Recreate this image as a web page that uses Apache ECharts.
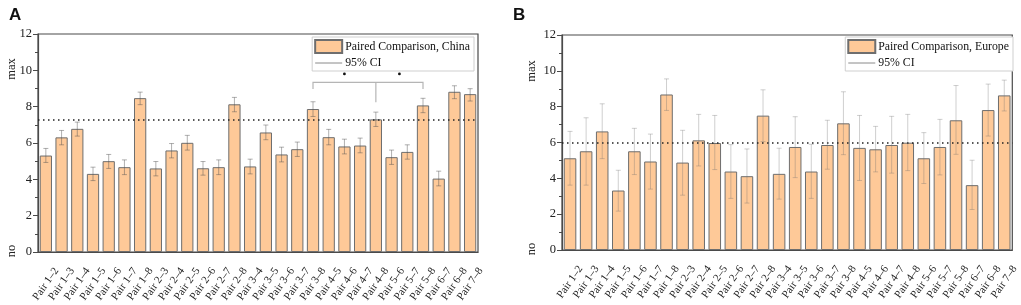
<!DOCTYPE html>
<html>
<head>
<meta charset="utf-8">
<script src="https://cdn.jsdelivr.net/npm/echarts@6/dist/echarts.min.js"></script>
<style>html,body{margin:0;padding:0;background:#fff;}#c{width:1021px;height:305px;}</style>
</head>
<body>
<div id="c"></div>
<script>
const categories = ['Pair 1–2','Pair 1–3','Pair 1–4','Pair 1–5','Pair 1–6','Pair 1–7','Pair 1–8',
  'Pair 2–3','Pair 2–4','Pair 2–5','Pair 2–6','Pair 2–7','Pair 2–8',
  'Pair 3–4','Pair 3–5','Pair 3–6','Pair 3–7','Pair 3–8',
  'Pair 4–5','Pair 4–6','Pair 4–7','Pair 4–8',
  'Pair 5–6','Pair 5–7','Pair 5–8','Pair 6–7','Pair 6–8','Pair 7–8'];

const meanChina   = [5.31,6.31,6.78,4.30,5.00,4.67,8.47,4.60,5.59,6.01,4.61,4.67,8.13,4.71,6.58,5.37,5.66,7.87,6.32,5.81,5.86,7.30,5.22,5.51,8.07,4.04,8.82,8.69];
const ciLowChina  = [4.93,5.90,6.38,3.93,4.60,4.26,8.11,4.19,5.18,5.61,4.23,4.26,7.72,4.30,6.18,4.96,5.26,7.46,5.90,5.40,5.46,6.91,4.82,5.11,7.67,3.64,8.44,8.31];
const ciHighChina = [5.70,6.69,7.15,4.67,5.37,5.07,8.80,4.98,5.97,6.42,4.98,5.07,8.51,5.11,6.99,5.77,6.05,8.27,6.75,6.21,6.27,7.70,5.61,5.90,8.46,4.45,9.15,8.99];
const refChina = 7.30;

const meanEurope   = [5.12,5.51,6.62,3.32,5.51,4.94,8.68,4.88,6.12,5.97,4.38,4.12,7.50,4.25,5.75,4.38,5.86,7.07,5.70,5.62,5.86,5.99,5.12,5.75,7.24,3.62,7.81,8.63];
const ciLowEurope  = [3.62,3.62,5.10,2.17,4.21,3.40,7.79,3.06,4.69,4.49,2.88,2.62,6.05,2.84,4.04,2.88,4.51,5.32,3.88,4.36,4.29,4.43,3.71,4.19,5.34,2.26,6.36,7.76];
const ciHighEurope = [6.62,7.38,8.16,4.45,6.79,6.47,9.55,6.68,7.57,7.51,5.88,5.64,8.94,5.68,7.44,5.90,7.24,8.83,7.51,6.90,7.46,7.57,6.55,7.29,9.18,5.01,9.26,9.48];
const refEurope = 6.0;

const yTicks = {min: 0, max: 12, interval: 2};

// significance bracket (panel A)
const bracketCats = ['Pair 3–8','Pair 4–8','Pair 5–8'];
const bracketTopY = 9.34;
const bracketEndY = 8.97;
const bracketMidY = 8.24;
const starY = 9.80;

const serif = '"Liberation Serif","Times New Roman",serif';
const axisColor = '#4a4a4a';
const barFill = '#fec998';
const barBorder = '#6e6e6e';

function grid(g){ return Object.assign({show:true, borderColor:axisColor, borderWidth:1.2, backgroundColor:'transparent'}, g); }

function xAx(gi){
  return {type:'category', gridIndex:gi, data:categories,
    axisLine:{lineStyle:{color:axisColor, width:1.2}},
    axisTick:{alignWithLabel:true, inside:false, length:6, lineStyle:{color:axisColor}},
    axisLabel:{rotate:55, align:'center', verticalAlign:'middle', fontFamily:serif, fontSize:11, color:'#222', margin:32, interval:0}};
}
function yAx(gi){
  return {type:'value', gridIndex:gi, min:yTicks.min, max:yTicks.max, interval:yTicks.interval,
    axisLine:{show:true, lineStyle:{color:axisColor, width:1.2}},
    axisTick:{show:true, length:5, lineStyle:{color:axisColor}},
    minorTick:{show:true, splitNumber:2, length:3, lineStyle:{color:axisColor}},
    splitLine:{show:false},
    axisLabel:{fontFamily:serif, fontSize:12.5, color:'#222', margin:6}};
}

function barSeries(name, gi, data, ref){
  return {type:'bar', name:name, xAxisIndex:gi, yAxisIndex:gi, data:data, barWidth:'78%',
    itemStyle:{color:barFill, borderColor:barBorder, borderWidth:1},
    markLine:{silent:true, symbol:'none', label:{show:false},
      lineStyle:{type:[1.5,3.5], color:'#222', width:1.6}, data:[{yAxis:ref}]},
    z:2};
}
function errSeries(gi, lo, hi, color){
  return {type:'custom', name:'errbar'+gi, xAxisIndex:gi, yAxisIndex:gi,
    data: categories.map((c,i)=>[i, lo[i], hi[i]]),
    encode:{x:0, y:[1,2]}, z:5, silent:true,
    renderItem:function(params, api){
      const x = api.value(0);
      const p1 = api.coord([x, api.value(2)]);
      const p2 = api.coord([x, api.value(1)]);
      const w = 2.5;
      const st = {stroke:color, lineWidth:1};
      return {type:'group', children:[
        {type:'line', shape:{x1:p1[0],y1:p1[1],x2:p2[0],y2:p2[1]}, style:st},
        {type:'line', shape:{x1:p1[0]-w,y1:p1[1],x2:p1[0]+w,y2:p1[1]}, style:st},
        {type:'line', shape:{x1:p2[0]-w,y1:p2[1],x2:p2[0]+w,y2:p2[1]}, style:st}
      ]};
    }};
}
function ciLegendSeries(gi){
  return {type:'line', name:'95% CI', xAxisIndex:gi, yAxisIndex:gi, data:[], symbol:'none',
    lineStyle:{color:'#8a8a8a', width:1}, itemStyle:{color:'#8a8a8a'}};
}

const bracketSeries = {
  type:'custom', name:'bracket', xAxisIndex:0, yAxisIndex:0, silent:true, z:4,
  data:[bracketCats.map(c=>categories.indexOf(c))],
  renderItem:function(params, api){
    const a = api.value(0), m = api.value(1), b = api.value(2);
    const pa = api.coord([a, bracketTopY]), pm = api.coord([m, bracketTopY]), pb = api.coord([b, bracketTopY]);
    const ea = api.coord([a, bracketEndY]), mb = api.coord([m, bracketMidY]);
    const st = {stroke:'#b5b5b5', lineWidth:1.2, fill:null};
    const sy = api.coord([a, starY])[1];
    return {type:'group', children:[
      {type:'polyline', shape:{points:[[pa[0],ea[1]],[pa[0],pa[1]],[pb[0],pb[1]],[pb[0],ea[1]]]}, style:st},
      {type:'line', shape:{x1:pm[0],y1:pm[1],x2:pm[0],y2:mb[1]}, style:st},
      {type:'circle', shape:{cx:(pa[0]+pm[0])/2, cy:sy, r:1.4}, style:{fill:'#111'}},
      {type:'circle', shape:{cx:(pm[0]+pb[0])/2, cy:sy, r:1.4}, style:{fill:'#111'}}
    ]};
  }
};

function legend(right, name){
  return {right:right, top:37, orient:'vertical', itemWidth:27, itemHeight:13, itemGap:3,
    padding:[2,4,2,2], borderColor:'#cfcfcf', borderWidth:1, backgroundColor:'#fff',
    textStyle:{fontFamily:serif, fontSize:11.8, color:'#111', padding:[0,0,0,-2]},
    data:[{name:name, icon:'rect'},
          {name:'95% CI', itemStyle:{opacity:0}, lineStyle:{color:'#8a8a8a', width:1, opacity:1}}],
    selectedMode:false};
}

const chart = echarts.init(document.getElementById('c'), null, {renderer:'canvas'});
chart.setOption({
  animation:false,
  grid:[grid({left:38, top:34, width:440, height:218}), grid({left:562, top:35, width:455, height:215})],
  xAxis:[xAx(0), xAx(1)],
  yAxis:[yAx(0), yAx(1)],
  legend:[legend(547,'Paired Comparison, China'), legend(8,'Paired Comparison, Europe')],
  series:[
    barSeries('Paired Comparison, China', 0, meanChina, refChina),
    errSeries(0, ciLowChina, ciHighChina, 'rgba(80,80,80,0.45)'),
    ciLegendSeries(0),
    bracketSeries,
    barSeries('Paired Comparison, Europe', 1, meanEurope, refEurope),
    errSeries(1, ciLowEurope, ciHighEurope, 'rgba(110,110,110,0.33)'),
    ciLegendSeries(1)
  ],
  graphic:[
    {type:'text', left:9, top:7, style:{text:'A', font:'bold 17px "Liberation Sans",Arial,sans-serif', fill:'#111'}},
    {type:'text', left:513, top:7, style:{text:'B', font:'bold 17px "Liberation Sans",Arial,sans-serif', fill:'#111'}},
    {type:'text', x:12, y:69, rotation:Math.PI/2, style:{text:'max', font:'12.5px '+serif, fill:'#222', align:'center', verticalAlign:'middle'}},
    {type:'text', x:12, y:251, rotation:Math.PI/2, style:{text:'no', font:'12.5px '+serif, fill:'#222', align:'center', verticalAlign:'middle'}},
    {type:'text', x:532, y:71, rotation:Math.PI/2, style:{text:'max', font:'12.5px '+serif, fill:'#222', align:'center', verticalAlign:'middle'}},
    {type:'text', x:532, y:249, rotation:Math.PI/2, style:{text:'no', font:'12.5px '+serif, fill:'#222', align:'center', verticalAlign:'middle'}}
  ]
});
</script>
</body>
</html>
